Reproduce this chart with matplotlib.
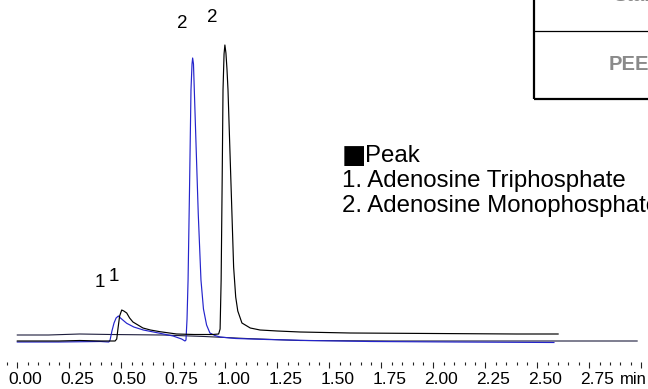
import matplotlib
matplotlib.use('Agg')
import matplotlib.pyplot as plt
from matplotlib.ticker import MultipleLocator, NullFormatter
from matplotlib.patches import Rectangle
from matplotlib.lines import Line2D

plt.rcParams['font.family'] = ['Liberation Sans', 'DejaVu Sans']

# ---------------- data ----------------
# PEEK column trace (black)
black_t = [0.00, 0.20, 0.30, 0.40, 0.47, 0.478, 0.485, 0.492, 0.502, 0.512, 0.526,
           0.540, 0.556, 0.580, 0.604, 0.640, 0.686, 0.766, 0.85, 0.94, 0.968, 0.975,
           0.980, 0.985, 0.989, 0.994, 0.998, 1.003, 1.008, 1.013, 1.020, 1.030, 1.040,
           1.050, 1.060, 1.080, 1.120, 1.167, 1.25, 1.36, 1.60, 2.00, 2.40, 2.60]
black_s = [48, 48, 48.5, 48, 48, 50, 62, 73, 79, 78, 76,
           71, 67, 64, 61, 59, 57.3, 55, 54.5, 54.5, 55, 60,
           109, 210, 299, 335, 344, 336, 320, 299, 253, 188, 122,
           92, 78, 66, 61, 59, 58, 57, 56, 55.5, 55, 55]

# Stainless column trace (blue)
blue_t = [0.00, 0.20, 0.40, 0.440, 0.446, 0.455, 0.465, 0.475, 0.486, 0.496, 0.510,
          0.526, 0.560, 0.606, 0.686, 0.749, 0.790, 0.806, 0.811, 0.816, 0.821, 0.828,
          0.835, 0.840, 0.843, 0.847, 0.851, 0.860, 0.870, 0.883, 0.895, 0.910, 0.926,
          0.950, 0.975, 1.05, 1.20, 1.40, 1.70, 2.10, 2.58]
blue_s = [47, 47, 47.5, 47, 49, 58, 66, 71, 73, 71, 68.5,
          65.7, 62, 59, 55.7, 53, 50, 48, 49, 70, 109, 200,
          299, 325, 331, 325, 299, 240, 175, 109, 80, 64, 56,
          53.5, 52, 50.5, 49.5, 48.5, 47.5, 47, 46.5]

# long baseline trace (dark)
base_t = [0.00, 0.15, 0.30, 0.45, 0.70, 0.90, 1.10, 1.36, 1.80, 2.40, 2.98]
base_s = [54, 54, 55, 54.5, 54, 52.5, 50.5, 48.5, 48, 48, 48]

major_ticks = [0.00, 0.25, 0.50, 0.75, 1.00, 1.25, 1.50, 1.75, 2.00, 2.25, 2.50, 2.75]
tick_labels = ['0.00', '0.25', '0.50', '0.75', '1.00', '1.25', '1.50', '1.75',
               '2.00', '2.25', '2.50', '2.75']
unit_label = 'min'

peak_labels = ['1', '1', '2', '2']
legend_marker = '■'
legend_lines = ['Peak', '1. Adenosine Triphosphate', '2. Adenosine Monophosphate']
table_rows = ['Stainless', 'PEEK']

# ---------------- figure ----------------
W, H = 648, 389
PX = 208.0          # pixels per minute
X0 = 17.3           # pixel x of t = 0
fig = plt.figure(figsize=(W / 100, H / 100), dpi=100)
ax = fig.add_axes([0, 0, 1, 1])
ax.set_xlim(-X0 / PX, (W - X0) / PX)
ax.set_ylim(0, H)
ax.patch.set_alpha(0)

def tx(px):
    return (px - X0) / PX

def sy(py):
    return H - py

ax.plot(base_t, base_s, color='#1c1c3c', lw=0.8, zorder=2)
ax.plot(blue_t, blue_s, color='#2424cc', lw=0.85, zorder=3)
ax.plot(black_t, black_s, color='black', lw=0.85, zorder=4)

# axis: ticks only, no axis line
for s in ['left', 'right', 'top']:
    ax.spines[s].set_visible(False)
ax.spines['bottom'].set_position(('data', sy(362)))
ax.spines['bottom'].set_color('none')
ax.yaxis.set_visible(False)
ax.xaxis.set_major_locator(MultipleLocator(0.25))
ax.xaxis.set_minor_locator(MultipleLocator(0.05))
ax.xaxis.set_major_formatter(NullFormatter())
ax.tick_params(axis='x', which='major', direction='out', length=4.0, width=0.8, color='#222222')
ax.tick_params(axis='x', which='minor', direction='out', length=2.4, width=0.8, color='#222222')

for v, lab in zip(major_ticks, tick_labels):
    ax.text(v + 8 / PX, sy(384), lab, ha='center', va='baseline', fontsize=12.5, color='black')
ax.text(tx(633), sy(384), unit_label, ha='center', va='baseline', fontsize=12, color='black')

# peak labels
lab_pos = [(100, 287), (113.5, 281), (182, 28), (212.5, 22)]
for lab, (px, py) in zip(peak_labels, lab_pos):
    ax.text(tx(px), sy(py), lab, ha='center', va='baseline', fontsize=13.5, color='black')

# legend text
ax.text(tx(342), sy(163), legend_marker, ha='left', va='baseline', fontsize=18.5,
        family='DejaVu Sans', color='black')
ax.text(tx(365), sy(162), legend_lines[0], ha='left', va='baseline', fontsize=17.3,
        color='black', clip_on=False)
for i, line in enumerate(legend_lines[1:], start=1):
    ax.text(tx(342), sy(162 + 25 * i), line, ha='left', va='baseline', fontsize=17.3,
            color='black', clip_on=False)

# table box at the top right (partly outside the picture)
fig.patches.append(Rectangle((534 / W, 1 - 99 / H), 0.5, 0.5, transform=fig.transFigure,
                             fill=False, lw=1.6, edgecolor='black'))
fig.lines.append(Line2D([534 / W, 1.0], [1 - 31 / H, 1 - 31 / H], transform=fig.transFigure,
                        lw=0.9, color='black'))
ax.text(tx(613), sy(1.0), table_rows[0], ha='left', va='baseline', fontsize=14.5,
        fontweight='bold', color='#8a8a8a', clip_on=False)
ax.text(tx(609), sy(70), table_rows[1], ha='left', va='baseline', fontsize=14.5,
        fontweight='bold', color='#8a8a8a', clip_on=False)

fig.savefig('out.png', dpi=100)
